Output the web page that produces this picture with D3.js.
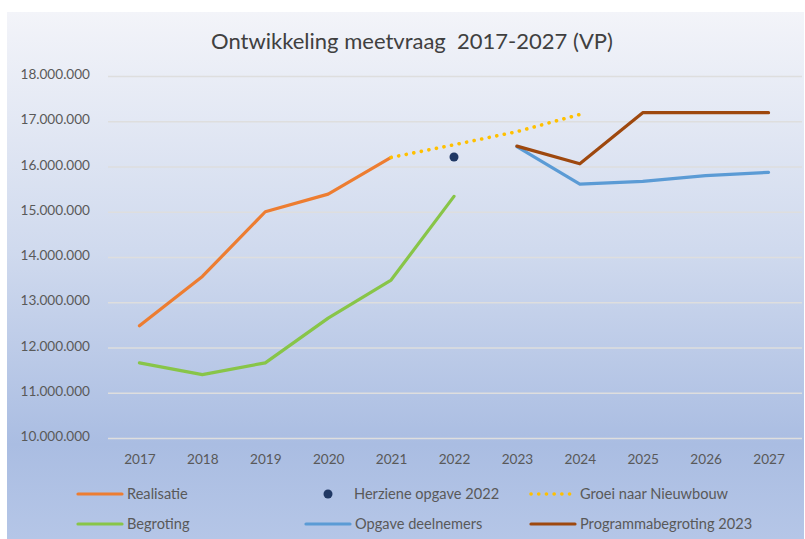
<!DOCTYPE html>
<html>
<head>
<meta charset="utf-8">
<script src="https://cdn.jsdelivr.net/npm/d3@7"></script>
<style>
  body { margin: 0; background: #ffffff; }
  text { font-family: Lato, "Open Sans", sans-serif; fill: #595959; }
  .title { font-size: 22px; fill: #404040; }
  .axis text { font-size: 13.6px; }
  .legend text { font-size: 14.6px; }
</style>
</head>
<body>
<script>
// data
var years = ["2017", "2018", "2019", "2020", "2021", "2022", "2023", "2024", "2025", "2026", "2027"];
var yTicks = [10000000, 11000000, 12000000, 13000000, 14000000, 15000000, 16000000, 17000000, 18000000];

var realisatie = [["2017", 12480000], ["2018", 13570000], ["2019", 15000000], ["2020", 15390000], ["2021", 16200000]];
var begroting = [["2017", 11660000], ["2018", 11400000], ["2019", 11660000], ["2020", 12650000], ["2021", 13490000], ["2022", 15340000]];
var herziene = [["2022", 16210000]];
var groei = [["2021", 16200000], ["2022", 16480000], ["2023", 16770000], ["2024", 17150000]];
var opgave = [["2023", 16440000], ["2024", 15610000], ["2025", 15670000], ["2026", 15800000], ["2027", 15870000]];
var programma = [["2023", 16450000], ["2024", 16060000], ["2025", 17190000], ["2026", 17190000], ["2027", 17190000]];

var width = 805;
var height = 539;
var frame = {left: 7, top: 12}; // white border round the chart area
var plot = {left: 108, right: 800, top: 76, bottom: 438};

var svg = d3.select("body")
            .append("svg")
            .attr("width", width)
            .attr("height", height);

// background gradient
var grad = svg.append("defs")
              .append("linearGradient")
              .attr("id", "bg")
              .attr("x1", 0).attr("y1", 0)
              .attr("x2", 0).attr("y2", 1);
grad.append("stop").attr("offset", "0%").attr("stop-color", "#f3f4f9");
grad.append("stop").attr("offset", "45%").attr("stop-color", "#d0daee");
grad.append("stop").attr("offset", "82%").attr("stop-color", "#aabde2");
grad.append("stop").attr("offset", "100%").attr("stop-color", "#b5c6e7");

svg.append("rect")
    .attr("x", frame.left)
    .attr("y", frame.top)
    .attr("width", width - frame.left - 1)
    .attr("height", height - frame.top)
    .attr("fill", "url(#bg)");

// title
svg.append("text")
    .attr("class", "title")
    .attr("x", 412)
    .attr("y", 49)
    .attr("text-anchor", "middle")
    .attr("xml:space", "preserve")
    .text("Ontwikkeling meetvraag  2017-2027 (VP)");

// scales
var xScale = d3.scalePoint()
                .domain(years)
                .range([plot.left, plot.right])
                .padding(0.5);

var yScale = d3.scaleLinear()
                .domain([10000000, 18000000])
                .range([plot.bottom, plot.top]);

var fmt = function(d) { return d3.format(",")(d).replace(/,/g, "."); };

// y axis with gridlines
var yAxis = d3.axisLeft(yScale)
                .tickValues(yTicks)
                .tickSize(-(plot.right + 2 - plot.left))
                .tickPadding(18)
                .tickFormat(fmt);

svg.append("g")
    .attr("class", "axis")
    .attr("transform", "translate(" + plot.left + ",0)")
    .call(yAxis)
    .call(function(g) { g.select(".domain").remove(); })
    .call(function(g) {
        g.selectAll(".tick line").attr("stroke", "#dedede").attr("stroke-width", 1.3);
        g.selectAll(".tick text").attr("fill", "#595959").attr("dy", "0.2em");
    });

// x axis labels
var xAxis = d3.axisBottom(xScale).tickSize(0).tickPadding(16);

svg.append("g")
    .attr("class", "axis")
    .attr("transform", "translate(0," + plot.bottom + ")")
    .call(xAxis)
    .call(function(g) { g.select(".domain").remove(); })
    .call(function(g) { g.selectAll(".tick text").attr("fill", "#595959").attr("dy", "0.75em"); });

// lines
var line = d3.line()
            .x(function(d) { return xScale(d[0]); })
            .y(function(d) { return yScale(d[1]); });

var series = [
    {data: begroting, color: "#88c548", dash: null},
    {data: realisatie, color: "#ed7d31", dash: null},
    {data: opgave, color: "#5b9bd5", dash: null},
    {data: programma, color: "#9e480e", dash: null},
    {data: groei, color: "#ffc000", dash: "0.1 7.6"}
];

svg.selectAll(".series")
    .data(series)
    .enter()
    .append("path")
    .attr("class", "series")
    .attr("fill", "none")
    .attr("stroke", function(d) { return d.color; })
    .attr("stroke-width", function(d) { return d.dash ? 3.6 : 3.2; })
    .attr("stroke-linecap", "round")
    .attr("stroke-linejoin", "round")
    .attr("stroke-dasharray", function(d) { return d.dash; })
    .attr("d", function(d) { return line(d.data); });

svg.selectAll(".dot")
    .data(herziene)
    .enter()
    .append("circle")
    .attr("class", "dot")
    .attr("cx", function(d) { return xScale(d[0]); })
    .attr("cy", function(d) { return yScale(d[1]); })
    .attr("r", 4.5)
    .attr("fill", "#203864");

// legend
var legendItems = [
    {name: "Realisatie", color: "#ed7d31", type: "line", x: 77, y: 494},
    {name: "Herziene opgave 2022", color: "#203864", type: "dot", x: 305, y: 494},
    {name: "Groei naar Nieuwbouw", color: "#ffc000", type: "dots", x: 530, y: 494},
    {name: "Begroting", color: "#88c548", type: "line", x: 77, y: 524},
    {name: "Opgave deelnemers", color: "#5b9bd5", type: "line", x: 305, y: 524},
    {name: "Programmabegroting 2023", color: "#9e480e", type: "line", x: 530, y: 524}
];

var legend = svg.append("g").attr("class", "legend");

var item = legend.selectAll("g")
                .data(legendItems)
                .enter()
                .append("g")
                .attr("transform", function(d) { return "translate(" + d.x + "," + d.y + ")"; });

item.filter(function(d) { return d.type != "dot"; })
    .append("line")
    .attr("x1", 1).attr("x2", 45)
    .attr("y1", 0).attr("y2", 0)
    .attr("stroke", function(d) { return d.color; })
    .attr("stroke-width", function(d) { return d.type == "dots" ? 3.6 : 3.2; })
    .attr("stroke-linecap", "round")
    .attr("stroke-dasharray", function(d) { return d.type == "dots" ? "0.1 7.6" : null; });

item.filter(function(d) { return d.type == "dot"; })
    .append("circle")
    .attr("cx", 23)
    .attr("cy", 0)
    .attr("r", 4.5)
    .attr("fill", function(d) { return d.color; });

item.append("text")
    .attr("x", function(d) { return d.type == "dot" ? 49 : 50; })
    .attr("y", 0)
    .attr("dy", "0.35em")
    .text(function(d) { return d.name; });
</script>
</body>
</html>
